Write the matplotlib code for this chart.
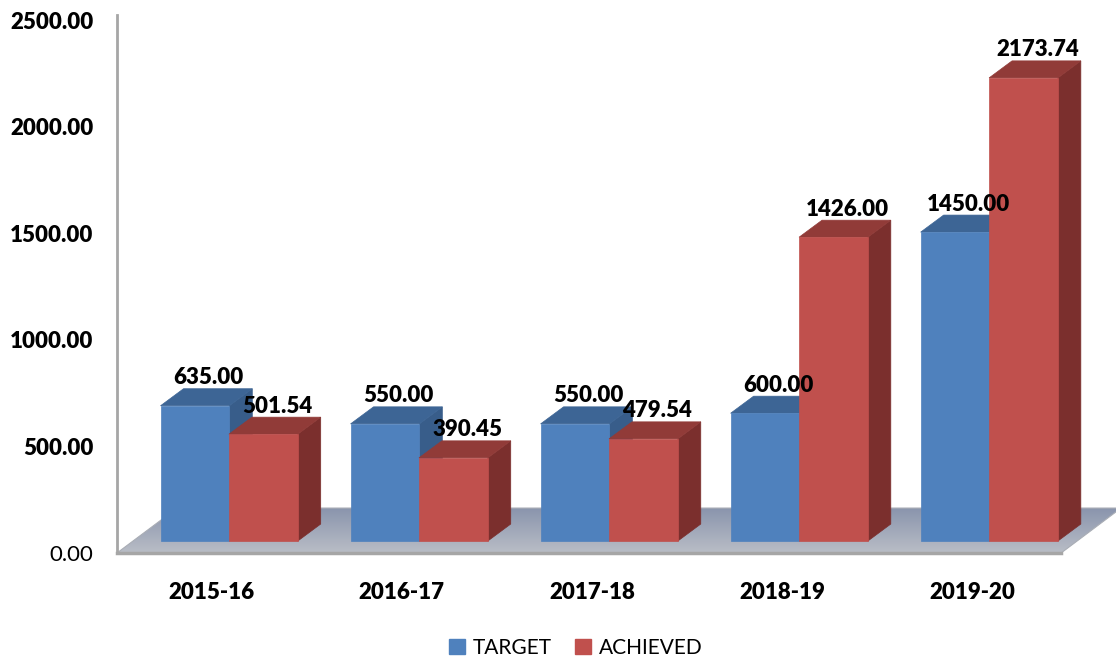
import numpy as np
import matplotlib.pyplot as plt
from matplotlib.patches import Polygon, Patch
from matplotlib.colors import to_rgb

plt.rcParams['font.family'] = ['Lato', 'DejaVu Sans']

#---------------------------------------------------------#
# Data
#---------------------------------------------------------#
years = ['2015-16', '2016-17', '2017-18', '2018-19', '2019-20']
target = [635.00, 550.00, 550.00, 600.00, 1450.00]
achieved = [501.54, 390.45, 479.54, 1426.00, 2173.74]
series_names = ['TARGET', 'ACHIEVED']
yticks = [0, 500, 1000, 1500, 2000, 2500]

#---------------------------------------------------------#
# Style / fake-3D geometry (in data units)
#---------------------------------------------------------#
face = ['#4f81bd', '#c0504d']
top_c = ['#3d6595', '#913b38']
side_c = ['#385d8a', '#7b2f2d']
bw = 0.362          # bar width
offs = [-0.36, 0.0]  # left edge of each series relative to group
ddx, ddz = 0.121, 80  # bar depth offset
base = 56            # bars sit a bit behind the floor front edge
fdx, fdz = 0.316, 211  # floor depth
wt = 'heavy'

fig = plt.figure(figsize=(11.16, 6.63), dpi=100)
ax = fig.add_axes([117 / 1116, 110 / 663, 999 / 1116, 538 / 663])

# floor (gradient clipped to a parallelogram)
x_fl, x_fr = -0.589, 4.379
floor = Polygon([(x_fl, 0), (x_fr, 0), (x_fr + fdx, fdz), (x_fl + fdx, fdz)],
                closed=True, facecolor='none', edgecolor='#a9adb5', lw=0.8, zorder=1)
ax.add_patch(floor)
c_back, c_front = np.array(to_rgb('#8a95ad')), np.array(to_rgb('#b9bdc6'))
t = np.linspace(0, 1, 64)[:, None, None]
grad = c_front * (1 - t) + c_back * t
im = ax.imshow(grad, extent=[x_fl, x_fr + fdx, 0, fdz], origin='lower',
               aspect='auto', zorder=0.9, interpolation='bilinear')
im.set_clip_path(floor)
ax.plot([x_fl, x_fr], [0, 0], color='#a6a6a6', lw=2.5, clip_on=False, zorder=1.1)
ax.set_xlim(-0.589, 4.668)
ax.set_ylim(0, 2525)

# bars
for i in range(len(years)):
    for s, vals in enumerate([target, achieved]):
        v = vals[i]
        x0 = i + offs[s]
        x1 = x0 + bw
        z0, z1 = base, base + v
        side = [(x1, z0), (x1 + ddx, z0 + ddz), (x1 + ddx, z1 + ddz), (x1, z1)]
        top = [(x0, z1), (x1, z1), (x1 + ddx, z1 + ddz), (x0 + ddx, z1 + ddz)]
        front = [(x0, z0), (x1, z0), (x1, z1), (x0, z1)]
        for pts, col in [(side, side_c[s]), (top, top_c[s]), (front, face[s])]:
            ax.add_patch(Polygon(pts, closed=True, facecolor=col, edgecolor=col,
                                 lw=0.5, zorder=2))
        ax.text(x0 + bw / 2 + ddx * 0.6, z1 + ddz + 2, f'{v:.2f}',
                ha='center', va='bottom', fontsize=16, fontweight=wt,
                color='black', zorder=3)

# axes styling
for side_name in ['top', 'right', 'bottom']:
    ax.spines[side_name].set_visible(False)
ax.spines['left'].set_color('#a6a6a6')
ax.spines['left'].set_linewidth(2)

ax.set_yticks(yticks)
ax.set_yticklabels([f'{v:.2f}' for v in yticks], fontsize=16, fontweight=wt)
ax.get_yticklabels()[0].set_fontweight('normal')
ax.tick_params(axis='y', length=0, pad=17)

ax.set_xticks(np.arange(len(years)) - 0.09)
ax.set_xticklabels(years, fontsize=16, fontweight=wt)
ax.tick_params(axis='x', length=0, pad=21)

handles = [Patch(facecolor=face[k], edgecolor=face[k]) for k in range(2)]
fig.legend(handles, series_names, loc='center', bbox_to_anchor=(0.516, 0.023),
           ncol=2, frameon=False, fontsize=15, handlelength=0.75, handleheight=0.75,
           handletextpad=0.4, columnspacing=1.1)

fig.savefig('out.png', dpi=100)
